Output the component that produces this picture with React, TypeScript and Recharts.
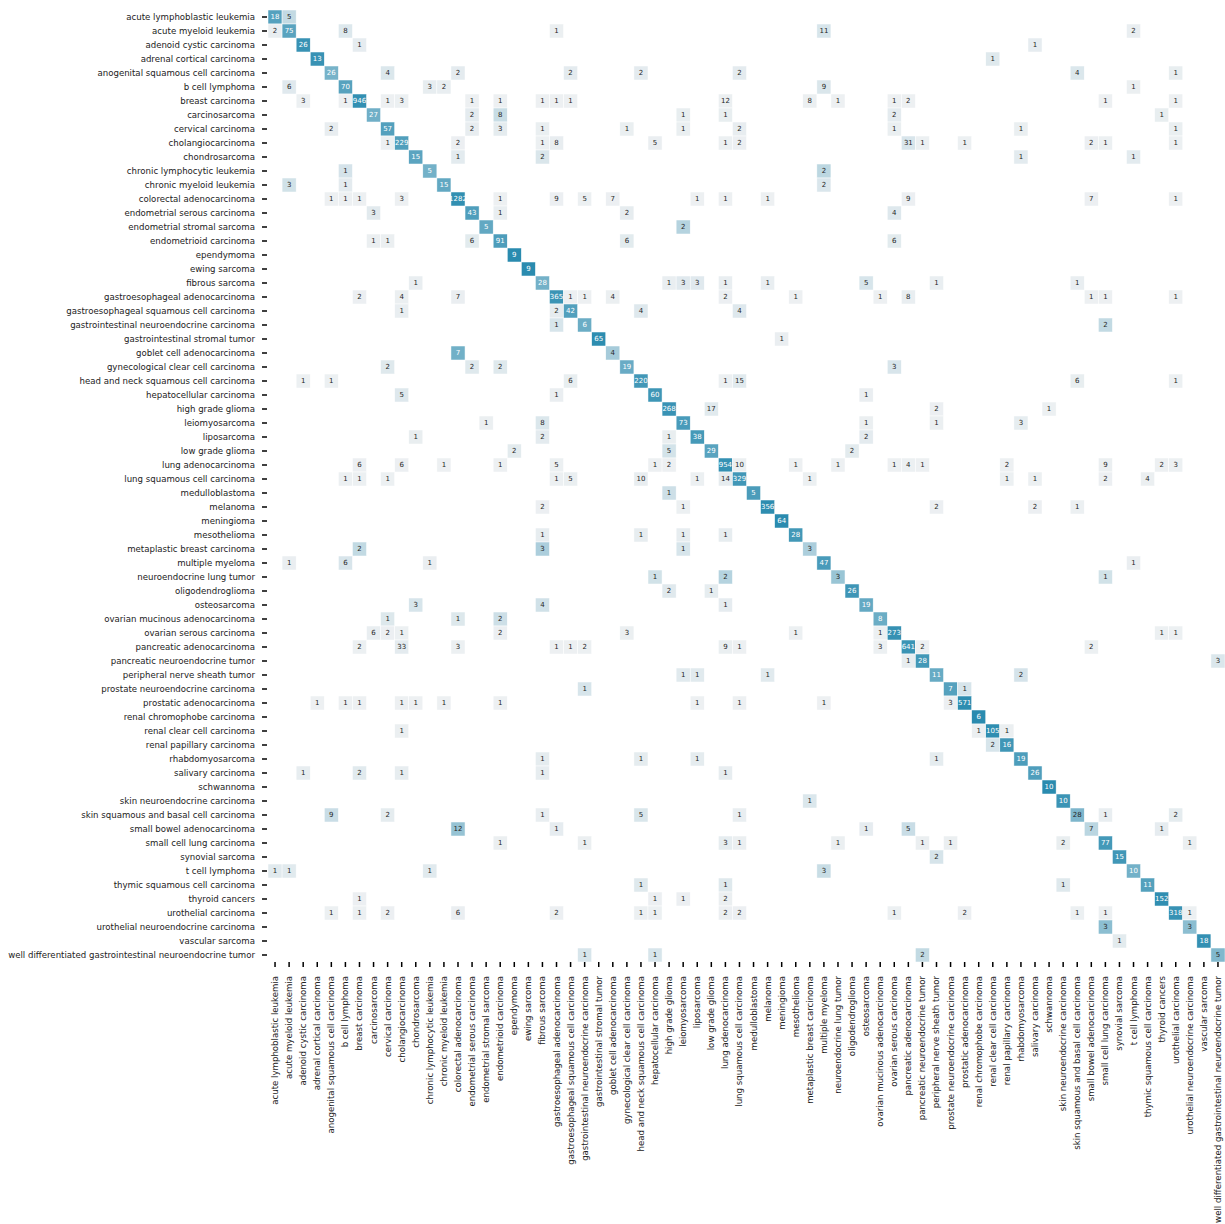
import { ScatterChart, Scatter, XAxis, YAxis } from "recharts"

const categories = [
    "acute lymphoblastic leukemia", "acute myeloid leukemia", "adenoid cystic carcinoma", "adrenal cortical carcinoma",
    "anogenital squamous cell carcinoma", "b cell lymphoma", "breast carcinoma", "carcinosarcoma", "cervical carcinoma",
    "cholangiocarcinoma", "chondrosarcoma", "chronic lymphocytic leukemia", "chronic myeloid leukemia",
    "colorectal adenocarcinoma", "endometrial serous carcinoma", "endometrial stromal sarcoma", "endometrioid carcinoma",
    "ependymoma", "ewing sarcoma", "fibrous sarcoma", "gastroesophageal adenocarcinoma",
    "gastroesophageal squamous cell carcinoma", "gastrointestinal neuroendocrine carcinoma", "gastrointestinal stromal tumor",
    "goblet cell adenocarcinoma", "gynecological clear cell carcinoma", "head and neck squamous cell carcinoma",
    "hepatocellular carcinoma", "high grade glioma", "leiomyosarcoma", "liposarcoma", "low grade glioma",
    "lung adenocarcinoma", "lung squamous cell carcinoma", "medulloblastoma", "melanoma", "meningioma", "mesothelioma",
    "metaplastic breast carcinoma", "multiple myeloma", "neuroendocrine lung tumor", "oligodendroglioma", "osteosarcoma",
    "ovarian mucinous adenocarcinoma", "ovarian serous carcinoma", "pancreatic adenocarcinoma",
    "pancreatic neuroendocrine tumor", "peripheral nerve sheath tumor", "prostate neuroendocrine carcinoma",
    "prostatic adenocarcinoma", "renal chromophobe carcinoma", "renal clear cell carcinoma", "renal papillary carcinoma",
    "rhabdomyosarcoma", "salivary carcinoma", "schwannoma", "skin neuroendocrine carcinoma",
    "skin squamous and basal cell carcinoma", "small bowel adenocarcinoma", "small cell lung carcinoma", "synovial sarcoma",
    "t cell lymphoma", "thymic squamous cell carcinoma", "thyroid cancers", "urothelial carcinoma",
    "urothelial neuroendocrine carcinoma", "vascular sarcoma", "well differentiated gastrointestinal neuroendocrine tumor",
]

// non-zero counts per true class: [predicted index, count]
const rowEntries: [number, number][][] = [
    [[0, 18], [1, 5]],
    [[0, 2], [1, 75], [5, 8], [20, 1], [39, 11], [61, 2]],
    [[2, 26], [6, 1], [54, 1]],
    [[3, 13], [51, 1]],
    [[4, 26], [8, 4], [13, 2], [21, 2], [26, 2], [33, 2], [57, 4], [64, 1]],
    [[1, 6], [5, 70], [11, 3], [12, 2], [39, 9], [61, 1]],
    [[2, 3], [5, 1], [6, 946], [8, 1], [9, 3], [14, 1], [16, 1], [19, 1], [20, 1], [21, 1], [32, 12], [38, 8], [40, 1], [44, 1], [45, 2], [59, 1], [64, 1]],
    [[7, 27], [14, 2], [16, 8], [29, 1], [32, 1], [44, 2], [63, 1]],
    [[4, 2], [8, 57], [14, 2], [16, 3], [19, 1], [25, 1], [29, 1], [33, 2], [44, 1], [53, 1], [64, 1]],
    [[8, 1], [9, 229], [13, 2], [19, 1], [20, 8], [27, 5], [32, 1], [33, 2], [45, 31], [46, 1], [49, 1], [58, 2], [59, 1], [64, 1]],
    [[10, 15], [13, 1], [19, 2], [53, 1], [61, 1]],
    [[5, 1], [11, 5], [39, 2]],
    [[1, 3], [5, 1], [12, 15], [39, 2]],
    [[4, 1], [5, 1], [6, 1], [9, 3], [13, 1282], [16, 1], [20, 9], [22, 5], [24, 7], [30, 1], [32, 1], [35, 1], [45, 9], [58, 7], [64, 1]],
    [[7, 3], [14, 43], [16, 1], [25, 2], [44, 4]],
    [[15, 5], [29, 2]],
    [[7, 1], [8, 1], [14, 6], [16, 91], [25, 6], [44, 6]],
    [[17, 9]],
    [[18, 9]],
    [[10, 1], [19, 28], [28, 1], [29, 3], [30, 3], [32, 1], [35, 1], [42, 5], [47, 1], [57, 1]],
    [[6, 2], [9, 4], [13, 7], [20, 365], [21, 1], [22, 1], [24, 4], [32, 2], [37, 1], [43, 1], [45, 8], [58, 1], [59, 1], [64, 1]],
    [[9, 1], [20, 2], [21, 42], [26, 4], [33, 4]],
    [[20, 1], [22, 6], [59, 2]],
    [[23, 65], [36, 1]],
    [[13, 7], [24, 4]],
    [[8, 2], [14, 2], [16, 2], [25, 19], [44, 3]],
    [[2, 1], [4, 1], [21, 6], [26, 220], [32, 1], [33, 15], [57, 6], [64, 1]],
    [[9, 5], [20, 1], [27, 60], [42, 1]],
    [[28, 268], [31, 17], [47, 2], [55, 1]],
    [[15, 1], [19, 8], [29, 73], [42, 1], [47, 1], [53, 3]],
    [[10, 1], [19, 2], [28, 1], [30, 38], [42, 2]],
    [[17, 2], [28, 5], [31, 29], [41, 2]],
    [[6, 6], [9, 6], [12, 1], [16, 1], [20, 5], [27, 1], [28, 2], [32, 954], [33, 10], [37, 1], [40, 1], [44, 1], [45, 4], [46, 1], [52, 2], [59, 9], [63, 2], [64, 3]],
    [[5, 1], [6, 1], [8, 1], [20, 1], [21, 5], [26, 10], [30, 1], [32, 14], [33, 329], [38, 1], [52, 1], [54, 1], [59, 2], [62, 4]],
    [[28, 1], [34, 5]],
    [[19, 2], [29, 1], [35, 356], [47, 2], [54, 2], [57, 1]],
    [[36, 64]],
    [[19, 1], [26, 1], [29, 1], [32, 1], [37, 28]],
    [[6, 2], [19, 3], [29, 1], [38, 3]],
    [[1, 1], [5, 6], [11, 1], [39, 47], [61, 1]],
    [[27, 1], [32, 2], [40, 3], [59, 1]],
    [[28, 2], [31, 1], [41, 26]],
    [[10, 3], [19, 4], [32, 1], [42, 19]],
    [[8, 1], [13, 1], [16, 2], [43, 8]],
    [[7, 6], [8, 2], [9, 1], [16, 2], [25, 3], [37, 1], [43, 1], [44, 273], [63, 1], [64, 1]],
    [[6, 2], [9, 33], [13, 3], [20, 1], [21, 1], [22, 2], [32, 9], [33, 1], [43, 3], [45, 641], [46, 2], [58, 2]],
    [[45, 1], [46, 28], [67, 3]],
    [[29, 1], [30, 1], [35, 1], [47, 11], [53, 2]],
    [[22, 1], [48, 7], [49, 1]],
    [[3, 1], [5, 1], [6, 1], [9, 1], [10, 1], [12, 1], [16, 1], [30, 1], [33, 1], [39, 1], [48, 3], [49, 571]],
    [[50, 6]],
    [[9, 1], [50, 1], [51, 105], [52, 1]],
    [[51, 2], [52, 16]],
    [[19, 1], [26, 1], [30, 1], [47, 1], [53, 19]],
    [[2, 1], [6, 2], [9, 1], [19, 1], [32, 1], [54, 26]],
    [[55, 10]],
    [[38, 1], [56, 10]],
    [[4, 9], [8, 2], [19, 1], [26, 5], [33, 1], [57, 28], [59, 1], [64, 2]],
    [[13, 12], [20, 1], [42, 1], [45, 5], [58, 7], [63, 1]],
    [[16, 1], [22, 1], [32, 3], [33, 1], [40, 1], [46, 1], [48, 1], [56, 2], [59, 77], [65, 1]],
    [[47, 2], [60, 15]],
    [[0, 1], [1, 1], [11, 1], [39, 3], [61, 10]],
    [[26, 1], [32, 1], [56, 1], [62, 11]],
    [[6, 1], [27, 1], [29, 1], [32, 2], [63, 152]],
    [[4, 1], [6, 1], [8, 2], [13, 6], [20, 2], [26, 1], [27, 1], [32, 2], [33, 2], [44, 1], [49, 2], [57, 1], [59, 1], [64, 318], [65, 1]],
    [[59, 3], [65, 3]],
    [[60, 1], [66, 18]],
    [[22, 1], [27, 1], [46, 2], [67, 5]],
]

const indices = categories.map((_, i) => i)

const WIDTH = 1225
const HEIGHT = 1224
const PLOT_LEFT = 268
const PLOT_TOP = 10
const PLOT_H = 952
const CELL_W = (WIDTH - PLOT_LEFT) / categories.length
const CELL_H = PLOT_H / categories.length
const LABEL_SIZE = 8.6

const LIGHT = [237, 240, 242]
const DARK = [42, 139, 175]

function cellColor(f: number) {
    return LIGHT.map((l, i) => Math.round(l + (DARK[i] - l) * f))
}

function luminance(c: number[]) {
    const lin = c.map(v => {
        const s = v / 255
        return s <= 0.03928 ? s / 12.92 : Math.pow((s + 0.055) / 1.055, 2.4)
    })
    return 0.2126 * lin[0] + 0.7152 * lin[1] + 0.0722 * lin[2]
}

// row-normalised fractions drive the colour, counts are annotated
const cells = rowEntries.flatMap((entries, row) => {
    const total = entries.reduce((s, [, v]) => s + v, 0)
    return entries.map(([col, v]) => ({ x: col, y: row, count: v, frac: v / total }))
})

const HeatCell = (props: any) => {
    const { cx, cy, payload } = props
    if (cx == null || cy == null) return <g />
    const rgb = cellColor(payload.frac)
    const txt = luminance(rgb) > 0.408 ? "#262626" : "#ffffff"
    return (
        <g>
            <rect
                x={cx - CELL_W / 2}
                y={cy - CELL_H / 2}
                width={CELL_W}
                height={CELL_H}
                fill={`rgb(${rgb.join(",")})`}
                stroke="#ffffff"
                strokeWidth={0.5}
            />
            <text
                x={cx}
                y={cy}
                textAnchor="middle"
                dominantBaseline="central"
                fontSize={7}
                fontFamily="DejaVu Sans"
                fill={txt}
            >
                {payload.count}
            </text>
        </g>
    )
}

const RowTick = (props: any) => {
    const { x, y, payload } = props
    return (
        <g>
            <line x1={x - 6} y1={y} x2={x - 1} y2={y} stroke="#000" strokeWidth={1.5} />
            <text x={x - 13} y={y} textAnchor="end" dominantBaseline="central" fontSize={LABEL_SIZE} fontFamily="DejaVu Sans" fill="#222">
                {categories[payload.value]}
            </text>
        </g>
    )
}

const ColTick = (props: any) => {
    const { x, y, payload } = props
    return (
        <g>
            <line x1={x} y1={y} x2={x} y2={y + 5} stroke="#000" strokeWidth={1.5} />
            <text
                transform={`translate(${x}, ${y + 14}) rotate(-90)`}
                textAnchor="end"
                dominantBaseline="central"
                fontSize={LABEL_SIZE}
                fontFamily="DejaVu Sans"
                fill="#222"
            >
                {categories[payload.value]}
            </text>
        </g>
    )
}

export default function App() {
    return (
        <div style={{ position: "fixed", left: 0, top: 0, width: WIDTH, height: HEIGHT, overflow: "hidden", background: "#fff" }}>
            <ScatterChart width={WIDTH} height={HEIGHT} margin={{ top: PLOT_TOP, right: 0, bottom: 0, left: 0 }}>
                <XAxis
                    type="number"
                    dataKey="x"
                    domain={[-0.5, categories.length - 0.5]}
                    ticks={indices}
                    interval={0}
                    height={HEIGHT - PLOT_TOP - PLOT_H}
                    axisLine={false}
                    tickLine={false}
                    tickSize={0}
                    tickMargin={0}
                    tick={<ColTick />}
                />
                <YAxis
                    type="number"
                    dataKey="y"
                    reversed
                    domain={[-0.5, categories.length - 0.5]}
                    ticks={indices}
                    interval={0}
                    width={PLOT_LEFT}
                    axisLine={false}
                    tickLine={false}
                    tickSize={0}
                    tickMargin={0}
                    tick={<RowTick />}
                />
                <Scatter data={cells} shape={(p: any) => <HeatCell {...p} />} isAnimationActive={false} />
            </ScatterChart>
        </div>
    )
}
